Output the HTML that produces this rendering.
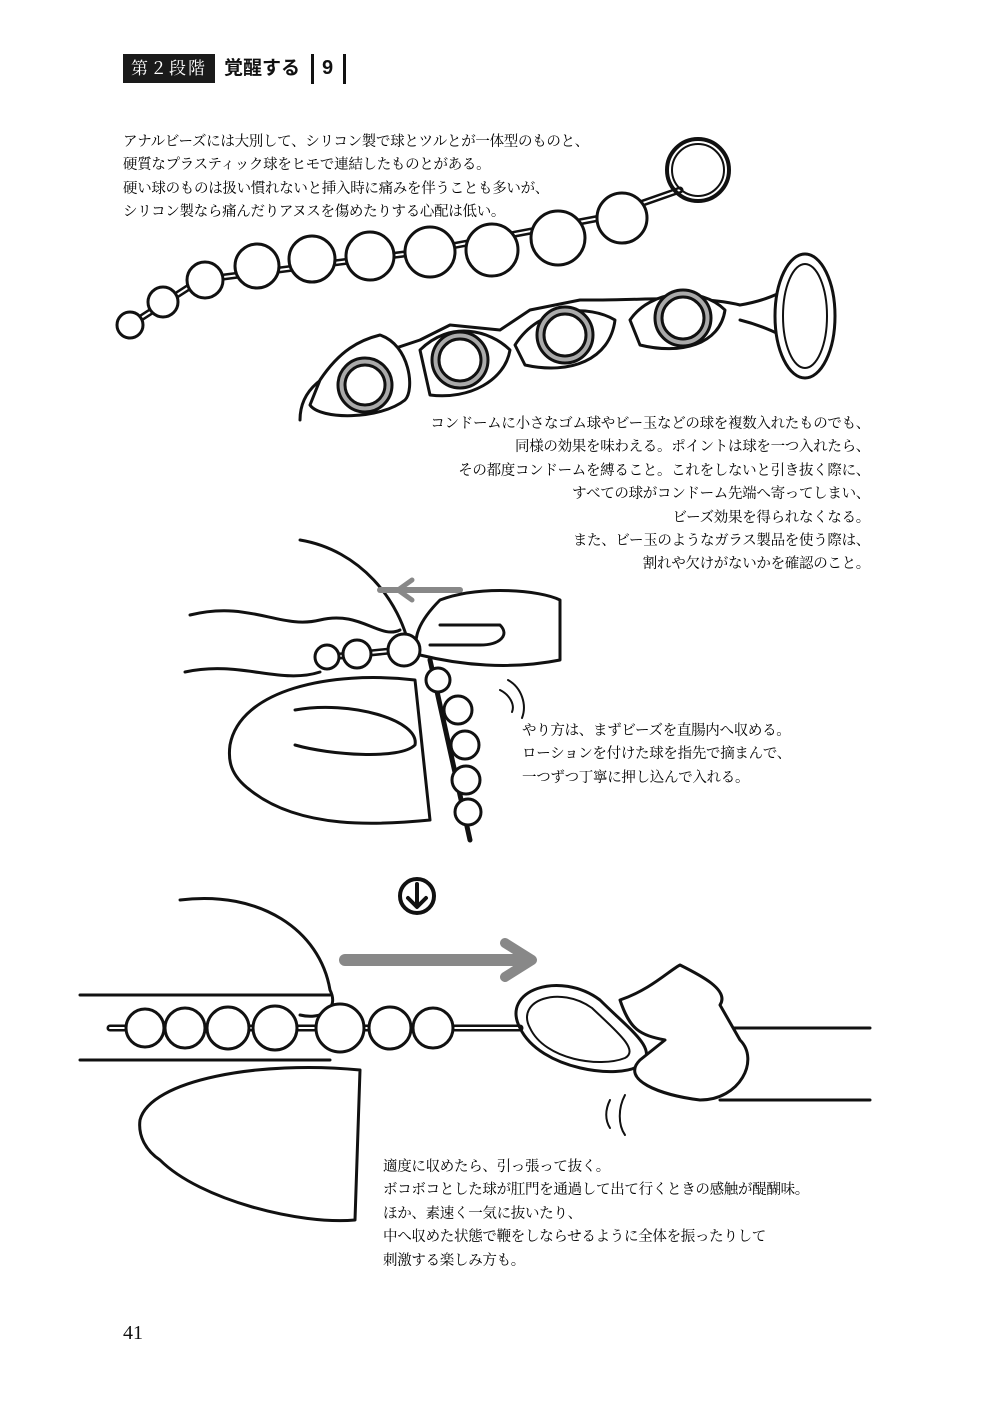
<!DOCTYPE html>
<html><head><meta charset="utf-8"><style>
body{margin:0;width:1000px;height:1418px;background:#fff;position:relative;overflow:hidden;font-family:"Liberation Serif","Noto Serif CJK SC",serif;color:#111}
.t{position:absolute;font-size:14.5px;line-height:23.4px;white-space:nowrap;letter-spacing:-0.3px;color:#000}
svg{position:absolute;left:0;top:0}
</style></head><body>
<svg width="1000" height="1418" viewBox="0 0 1000 1418" fill="none" stroke="#111" stroke-width="3" stroke-linecap="round" stroke-linejoin="round">
<path d="M130 325 L200 280 L420 252 L600 218 L680 190" stroke-width="7"/>
<path d="M130 325 L200 280 L420 252 L600 218 L680 190" stroke="#fff" stroke-width="2"/>
<circle cx="698" cy="170" r="31" stroke-width="4"/><circle cx="698" cy="170" r="26" stroke-width="2"/>
<g fill="#fff" stroke-width="3">
<circle cx="130" cy="325" r="13"/><circle cx="163" cy="302" r="15"/><circle cx="205" cy="280" r="18"/>
<circle cx="257" cy="266" r="22"/><circle cx="312" cy="259" r="23"/><circle cx="370" cy="256" r="24"/>
<circle cx="430" cy="252" r="25"/><circle cx="492" cy="250" r="26"/><circle cx="558" cy="238" r="27"/><circle cx="622" cy="218" r="25"/>
</g>
<path d="M300 420 C300 380 340 370 360 360 L420 340 L450 325 L500 330 L530 310 L580 300 L600 300 C640 300 700 295 740 305 L790 310" stroke-width="3"/>
<path d="M320 380 C340 350 360 340 380 335 C410 345 415 390 405 400 C380 420 320 420 310 405 Z" fill="#fff"/>
<circle cx="365" cy="385" r="27" fill="#aaa"/><circle cx="365" cy="385" r="20" fill="#fff"/>
<path d="M420 350 C450 320 490 330 510 350 C505 380 470 400 430 395 Z" fill="#fff"/>
<circle cx="460" cy="360" r="28" fill="#aaa"/><circle cx="460" cy="360" r="21" fill="#fff"/>
<path d="M515 345 C540 305 590 305 615 320 C610 360 570 375 525 365 Z" fill="#fff"/>
<circle cx="565" cy="335" r="28" fill="#aaa"/><circle cx="565" cy="335" r="21" fill="#fff"/>
<path d="M630 320 C650 290 700 285 725 310 C720 345 680 355 640 345 Z" fill="#fff"/>
<circle cx="683" cy="318" r="28" fill="#aaa"/><circle cx="683" cy="318" r="21" fill="#fff"/>
<path d="M740 305 C770 300 785 290 795 285 L795 345 C785 335 760 325 740 320" fill="#fff"/>
<ellipse cx="805" cy="316" rx="30" ry="62" fill="#fff" stroke-width="3"/>
<ellipse cx="805" cy="316" rx="22" ry="52" stroke-width="2"/>
<path d="M300 540 C360 550 400 600 410 650" />
<path d="M190 615 C250 600 280 630 320 620 C360 610 380 640 400 630"/>
<path d="M185 672 C240 660 280 685 320 672"/>
<path d="M230 745 C240 690 330 670 415 680 L430 820 C380 825 300 830 250 790 C230 775 228 760 230 745 Z"/>
<path d="M295 710 C350 700 420 720 415 745 C400 760 330 755 295 745"/>
<path d="M380 590 L460 590" stroke="#888" stroke-width="6"/>
<path d="M398 590 L412 580 M398 590 L412 600" stroke="#888" stroke-width="5"/>
<path d="M440 600 C480 585 540 590 560 600 L560 660 C510 670 460 665 420 655 C410 640 420 620 440 600 Z" fill="#fff"/>
<path d="M440 625 L500 625 C510 635 500 645 480 645 L430 645"/>
<path d="M320 658 L400 650" stroke-width="7"/><path d="M320 658 L400 650" stroke="#fff" stroke-width="2"/>
<g fill="#fff"><circle cx="327" cy="657" r="12"/><circle cx="357" cy="654" r="14"/><circle cx="404" cy="650" r="16"/></g>
<path d="M430 660 L470 840" stroke-width="5"/>
<g fill="#fff"><circle cx="438" cy="680" r="12"/><circle cx="458" cy="710" r="14"/><circle cx="465" cy="745" r="14"/><circle cx="466" cy="780" r="14"/><circle cx="468" cy="812" r="13"/></g>
<path d="M500 690 C510 695 515 705 512 712 M508 680 C522 688 527 705 522 718" stroke-width="2"/>
<circle cx="417" cy="896" r="17" stroke-width="4"/>
<path d="M417 884 L417 906 M408 898 L417 907 L426 898" stroke-width="4"/>
<path d="M180 900 C260 890 320 930 330 990 C340 1010 320 1020 300 1015"/>
<path d="M80 995 L330 995 M80 1060 L330 1060"/>
<path d="M345 960 L520 960" stroke="#888" stroke-width="12"/>
<path d="M505 943 L532 960 L505 977" stroke="#888" stroke-width="10"/>
<path d="M140 1120 C150 1080 260 1060 360 1070 L355 1220 C300 1225 200 1200 160 1160 C145 1150 138 1135 140 1120 Z"/>
<path d="M110 1028 L520 1028" stroke-width="7"/><path d="M110 1028 L520 1028" stroke="#fff" stroke-width="2"/>
<g fill="#fff"><circle cx="145" cy="1028" r="19"/><circle cx="185" cy="1028" r="20"/><circle cx="228" cy="1028" r="21"/><circle cx="275" cy="1028" r="22"/><circle cx="340" cy="1028" r="24"/><circle cx="390" cy="1028" r="21"/><circle cx="433" cy="1028" r="20"/></g>
<path d="M520 1028 C500 990 560 970 600 1000 C630 1030 660 1050 640 1065 C620 1080 540 1070 520 1028 Z"/>
<path d="M530 1028 C515 1000 560 985 592 1008 C615 1030 640 1050 625 1058 C600 1068 545 1060 530 1028 Z" stroke-width="2"/>
<path d="M660 1028 L870 1028 M720 1100 L870 1100"/>
<path d="M620 1000 C650 990 670 970 680 965 C700 975 730 990 720 1005 L740 1040 C760 1060 740 1100 700 1100 C660 1095 620 1080 640 1060 L665 1040 C640 1035 630 1030 620 1000 Z" fill="#fff"/>
<path d="M610 1100 C605 1110 605 1120 610 1128 M625 1095 C618 1108 618 1125 625 1135" stroke-width="2"/>
</svg>
<div style="position:absolute;left:123px;top:54px;width:92px;height:29px;background:#1a1a1a;color:#fff;font-size:17px;line-height:29px;text-align:center;letter-spacing:2px">第２段階</div>
<div style="position:absolute;left:224px;top:53px;font-family:'Liberation Sans','Noto Sans CJK JP',sans-serif;font-weight:bold;font-size:19px;line-height:32px">覚醒する</div>
<div style="position:absolute;left:311px;top:54px;width:3px;height:30px;background:#111"></div>
<div style="position:absolute;left:322px;top:52px;font-family:'Liberation Sans',sans-serif;font-weight:bold;font-size:20px;line-height:32px">9</div>
<div style="position:absolute;left:343px;top:54px;width:3px;height:30px;background:#111"></div>
<div class="t" style="left:123px;top:131px">アナルビーズには大別して、シリコン製で球とツルとが一体型のものと、<br>硬質なプラスティック球をヒモで連結したものとがある。<br>硬い球のものは扱い慣れないと挿入時に痛みを伴うことも多いが、<br>シリコン製なら痛んだりアヌスを傷めたりする心配は低い。</div>
<div class="t" style="right:130px;top:413px;text-align:right">コンドームに小さなゴム球やビー玉などの球を複数入れたものでも、<br>同様の効果を味わえる。ポイントは球を一つ入れたら、<br>その都度コンドームを縛ること。これをしないと引き抜く際に、<br>すべての球がコンドーム先端へ寄ってしまい、<br>ビーズ効果を得られなくなる。<br>また、ビー玉のようなガラス製品を使う際は、<br>割れや欠けがないかを確認のこと。</div>
<div class="t" style="left:522px;top:720px">やり方は、まずビーズを直腸内へ収める。<br>ローションを付けた球を指先で摘まんで、<br>一つずつ丁寧に押し込んで入れる。</div>
<div class="t" style="left:383px;top:1156px">適度に収めたら、引っ張って抜く。<br>ボコボコとした球が肛門を通過して出て行くときの感触が醍醐味。<br>ほか、素速く一気に抜いたり、<br>中へ収めた状態で鞭をしならせるように全体を振ったりして<br>刺激する楽しみ方も。</div>
<div style="position:absolute;left:123px;top:1322px;font-size:20px">41</div>
</body></html>
